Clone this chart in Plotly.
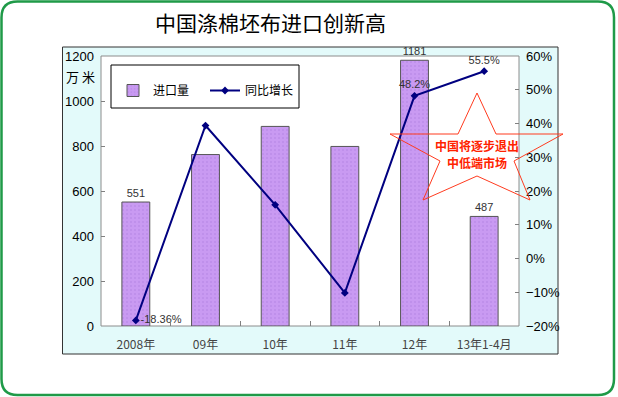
import plotly.graph_objects as go

categories = ["2008年", "09年", "10年", "11年", "12年", "13年1-4月"]
import_volume = [551, 762, 887, 798, 1181, 487]
volume_labels = ["551", "", "", "", "1181", "487"]
yoy_growth = [-18.36, 39.4, 15.9, -10.2, 48.2, 55.5]
growth_labels = ["-18.36%", "", "", "", "48.2%", "55.5%"]
growth_label_pos = ["middle right", "top center", "top center", "top center", "top center", "top center"]

W, H = 618, 397
L, R, T, B = 101, 99, 56, 71
PW, PH = W - L - R, H - T - B


def px(x):
    return (x - L) / PW


def py(y):
    return (H - B - y) / PH


fig = go.Figure()
fig.add_trace(go.Bar(
    x=categories, y=import_volume, name="进口量",
    marker=dict(color="#C99AF2", line=dict(color="#555555", width=1),
                pattern=dict(shape=".", size=4, solidity=0.2, fgcolor="#B07EE0", fillmode="overlay")),
    width=0.4,
    text=volume_labels, textposition="outside", cliponaxis=False,
    textfont=dict(family="Liberation Sans", size=11, color="#333333"),
    yaxis="y",
))
fig.add_trace(go.Scatter(
    x=categories, y=yoy_growth, name="同比增长",
    mode="lines+markers+text",
    line=dict(color="#000080", width=2),
    marker=dict(symbol="diamond", size=6, color="#000080"),
    text=growth_labels, textposition=growth_label_pos, cliponaxis=False,
    textfont=dict(family="Liberation Sans", size=11, color="#333333"),
    yaxis="y2",
))


def rounded_rect(x0, y0, x1, y1, r):
    return (f"M {px(x0+r)} {py(y0)} L {px(x1-r)} {py(y0)} "
            f"Q {px(x1)} {py(y0)} {px(x1)} {py(y0+r)} L {px(x1)} {py(y1-r)} "
            f"Q {px(x1)} {py(y1)} {px(x1-r)} {py(y1)} L {px(x0+r)} {py(y1)} "
            f"Q {px(x0)} {py(y1)} {px(x0)} {py(y1-r)} L {px(x0)} {py(y0+r)} "
            f"Q {px(x0)} {py(y0)} {px(x0+r)} {py(y0)} Z")


shapes = [
    dict(type="path", xref="paper", yref="paper", path=rounded_rect(1.5, 1.5, 614, 395, 16),
         line=dict(color="#1F9A48", width=2.5), fillcolor="white", layer="below"),
    dict(type="rect", xref="paper", yref="paper", x0=px(62.5), x1=px(558), y0=py(47), y1=py(354),
         line=dict(color="#333333", width=1), fillcolor="#E3FAFA", layer="below"),
    dict(type="rect", xref="paper", yref="paper", x0=0, x1=1, y0=0, y1=1,
         line=dict(color="#8C8C8C", width=1), fillcolor="white", layer="below"),
    dict(type="rect", xref="paper", yref="paper", x0=px(111), x1=px(299), y0=py(65), y1=py(108),
         line=dict(color="#000000", width=1), fillcolor="white", layer="below"),
]
star_pts = [(477, 93), (496, 134), (563, 134), (514, 161), (530, 200), (477, 176),
            (423, 200), (440, 161), (390, 134), (458, 134)]
star_path = "M " + " L ".join(f"{px(a)} {py(b)}" for a, b in star_pts) + " Z"
shapes.append(dict(type="path", xref="paper", yref="paper", path=star_path,
                   line=dict(color="#FF3B1F", width=1), layer="above"))

annotations = [
    dict(text="中国涤棉坯布进口创新高", x=px(270), y=py(22), xref="paper", yref="paper",
         xanchor="center", yanchor="middle",
         showarrow=False, font=dict(family="Noto Sans CJK SC", size=21, color="#000000")),
    dict(text="万 米", x=px(80), y=py(77), xref="paper", yref="paper", showarrow=False,
         xanchor="center", yanchor="middle",
         font=dict(family="Noto Sans CJK SC", size=13, color="#000000")),
    dict(text="<b>中国将逐步退出</b>", x=px(477), y=py(145), xref="paper", yref="paper",
         xanchor="center", yanchor="middle",
         showarrow=False, font=dict(family="Noto Sans CJK SC", size=12, color="#FF2200")),
    dict(text="<b>中低端市场</b>", x=px(477), y=py(162), xref="paper", yref="paper",
         xanchor="center", yanchor="middle",
         showarrow=False, font=dict(family="Noto Sans CJK SC", size=12, color="#FF2200")),
]

fig.update_layout(
    width=W, height=H,
    margin=dict(l=L, r=R, t=T, b=B, pad=0),
    paper_bgcolor="white", plot_bgcolor="rgba(0,0,0,0)",
    shapes=shapes, annotations=annotations,
    showlegend=True,
    legend=dict(orientation="h", x=px(113), y=py(76), xanchor="left", yanchor="top",
                bgcolor="rgba(0,0,0,0)", font=dict(family="Noto Sans CJK SC", size=12, color="#000"),
                traceorder="normal", entrywidth=47, entrywidthmode="pixels"),
    bargap=0.6,
    xaxis=dict(type="category", showgrid=False, showline=False, ticks="inside", tickson="boundaries",
               ticklen=5, tickcolor="#808080", ticklabelstandoff=10,
               tickfont=dict(family="Noto Sans CJK SC", size=12, color="#444444")),
    yaxis=dict(range=[0, 1200], dtick=200, showgrid=False, showline=False, ticks="inside",
               ticklen=4, tickcolor="#808080", zeroline=False, ticklabelstandoff=6,
               tickfont=dict(family="Liberation Sans", size=13, color="#000000")),
    yaxis2=dict(range=[-20, 60], dtick=10, ticksuffix="%", overlaying="y", side="right",
                showgrid=False, showline=False, ticks="inside", ticklen=4, tickcolor="#808080",
                zeroline=False, ticklabelstandoff=6,
                tickfont=dict(family="Liberation Sans", size=13, color="#000000")),
    font=dict(family="Noto Sans CJK SC"),
)

fig.write_html("out.html", config={"displayModeBar": False},
               post_script="document.body.style.margin='0';document.body.style.padding='0';")
